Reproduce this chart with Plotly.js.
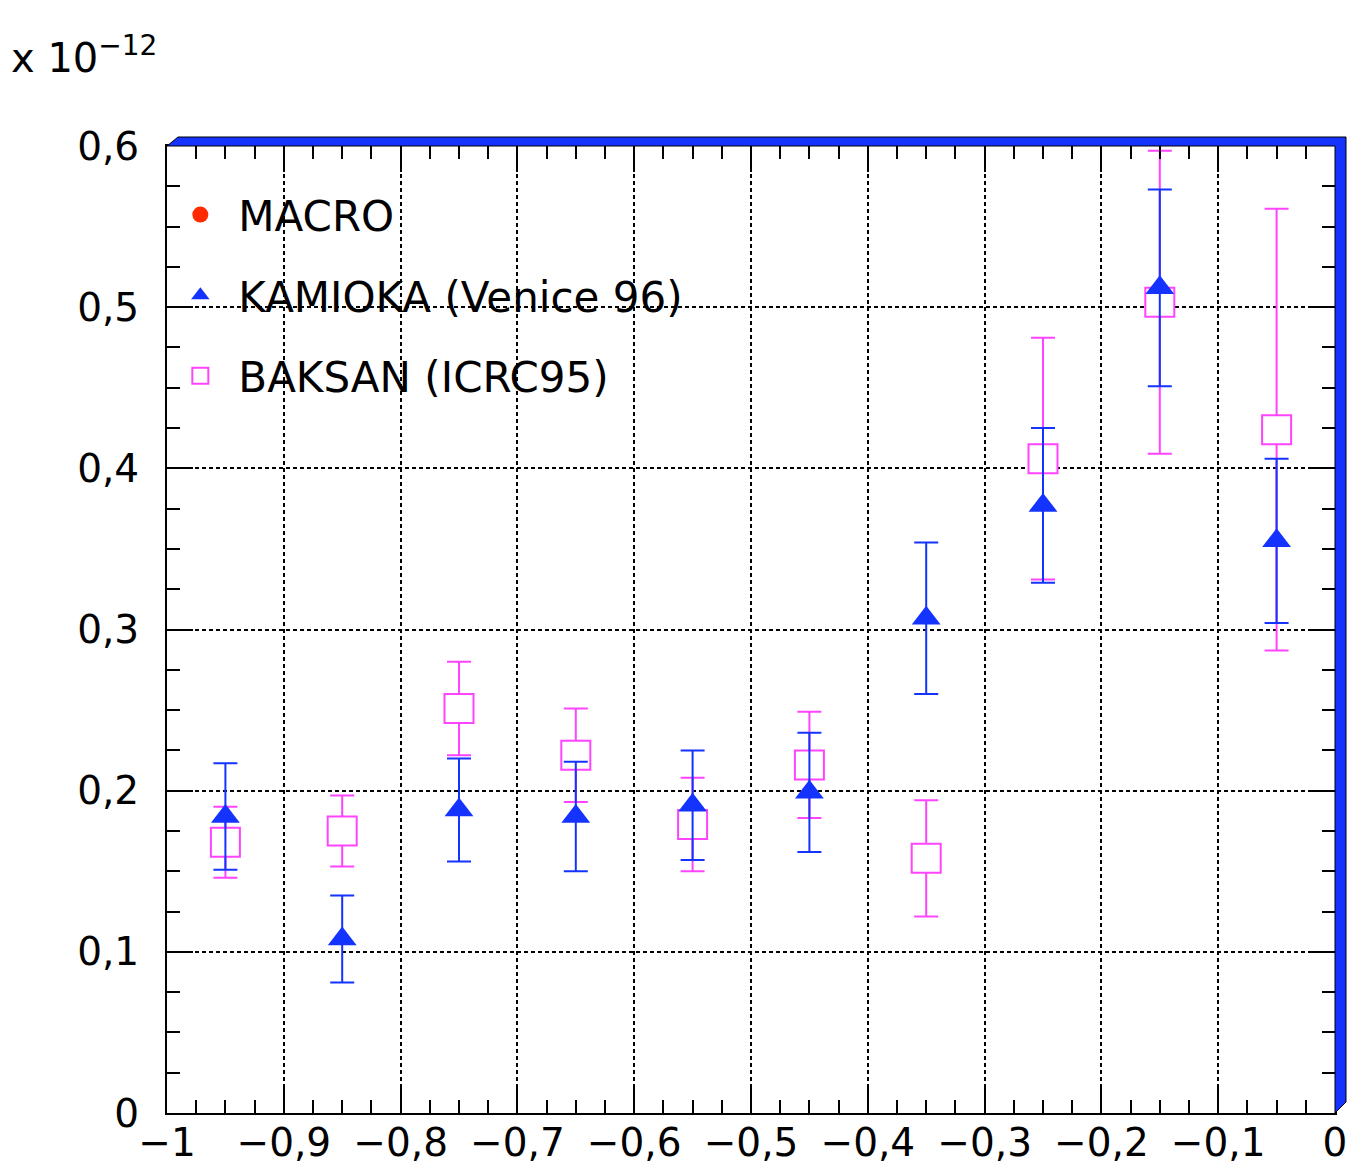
<!DOCTYPE html>
<html>
<head>
<meta charset="utf-8">
<script src="https://cdn.plot.ly/plotly-3.0.1.min.js"></script>
<style>html,body{margin:0;padding:0;background:#fff;}</style>
</head>
<body>
<div id="chart" style="width:1361px;height:1170px;"></div>
<script>
// x bin centres (cos zenith)
const xBins = [-0.95, -0.85, -0.75, -0.65, -0.55, -0.45, -0.35, -0.25, -0.15, -0.05];
// KAMIOKA (Venice 96), units of 1e-12
const kamiokaY   = [0.184, 0.108, 0.188, 0.184, 0.191, 0.199, 0.307, 0.377, 0.512, 0.355];
const kamiokaErr = [0.033, 0.027, 0.032, 0.034, 0.034, 0.037, 0.047, 0.048, 0.061, 0.051];
// BAKSAN (ICRC95)
const baksanY   = [0.168, 0.175, 0.251, 0.222, 0.179, 0.216, 0.158, 0.406, 0.503, 0.424];
const baksanErr = [0.022, 0.022, 0.029, 0.029, 0.029, 0.033, 0.036, 0.075, 0.094, 0.137];
// MACRO: legend entry only, no points drawn
const macroX = [null];
const macroY = [null];

const xTicks = [-1, -0.9, -0.8, -0.7, -0.6, -0.5, -0.4, -0.3, -0.2, -0.1, 0];
const yTicks = [0, 0.1, 0.2, 0.3, 0.4, 0.5, 0.6];

const BLUE = '#1433ff';
const PINK = '#ff44ff';
const RED = '#ff2a00';
const FONT = 'DejaVu Sans, Arial, sans-serif';

const traces = [
  {
    type: 'scatter', mode: 'markers', name: 'MACRO',
    x: macroX, y: macroY,
    marker: {symbol: 'circle', size: 20, color: RED},
    legendgroup: 'g1', legendrank: 1
  },
  {
    type: 'scatter', mode: 'markers', name: 'BAKSAN (ICRC95)',
    x: xBins, y: baksanY,
    error_y: {type: 'data', array: baksanErr, visible: true, color: PINK, thickness: 2, width: 12},
    marker: {symbol: 'square', size: 29, color: 'rgba(255,255,255,1)', line: {color: PINK, width: 2}},
    legendgroup: 'g3', legendrank: 3
  },
  {
    type: 'scatter', mode: 'markers', name: 'KAMIOKA (Venice 96)',
    x: xBins, y: kamiokaY,
    error_y: {type: 'data', array: kamiokaErr, visible: true, color: BLUE, thickness: 2, width: 12},
    marker: {symbol: 'triangle-up', size: 25, color: BLUE},
    legendgroup: 'g2', legendrank: 2
  }
];

const W = 1168, H = 967;
const dx = 11 / W, dy = 9 / H, dyb = 11 / H;
const bandPath = 'M 0,1 L ' + dx + ',' + (1 + dy) + ' L ' + (1 + dx) + ',' + (1 + dy) +
  ' L ' + (1 + dx) + ',' + dyb + ' L 1,0 L 1,1 Z';

const axisCommon = {
  showline: true, linecolor: 'black', linewidth: 2, mirror: 'allticks',
  ticks: 'inside', ticklen: 26, tickwidth: 2, tickcolor: 'black',
  showgrid: true, gridcolor: 'black', gridwidth: 2, griddash: '4px,3px',
  zeroline: false,
  tickfont: {family: FONT, size: 39, color: 'black'},
  minor: {ticks: 'inside', ticklen: 13, tickwidth: 2, tickcolor: 'black', dtick: 0.025, showgrid: false}
};

const layout = {
  width: 1361, height: 1170,
  margin: {l: 167, r: 26, t: 146, b: 57},
  paper_bgcolor: 'white', plot_bgcolor: 'white',
  separators: ', ',
  showlegend: true,
  legend: {
    x: -0.004, y: 0.964, xanchor: 'left', yanchor: 'top',
    bgcolor: 'rgba(0,0,0,0)', borderwidth: 0,
    font: {family: FONT, size: 42, color: 'black'},
    traceorder: 'grouped', tracegroupgap: 23, itemwidth: 66
  },
  xaxis: Object.assign({}, axisCommon, {
    range: [-1, 0], tickmode: 'array', tickvals: xTicks,
    ticktext: xTicks.map(v => v === 0 ? '0' : (v === -1 ? '\u22121' : '\u2212' + Math.abs(v).toFixed(1).replace('.', ','))),
    ticklabelstandoff: -6
  }),
  yaxis: Object.assign({}, axisCommon, {
    range: [0, 0.6], tickmode: 'array', tickvals: yTicks,
    ticktext: yTicks.map(v => v === 0 ? '0' : v.toFixed(1).replace('.', ',')),
    ticklabelstandoff: 18
  }),
  shapes: [
    {type: 'path', xref: 'paper', yref: 'paper', path: bandPath,
     fillcolor: BLUE, line: {color: 'black', width: 1}, layer: 'above'}
  ],
  annotations: [
    {xref: 'paper', yref: 'paper', x: -0.135, y: 1.065, xanchor: 'left', yanchor: 'bottom',
     showarrow: false, text: 'x 10<sup>\u221212</sup>',
     font: {family: FONT, size: 40, color: 'black'}}
  ]
};

Plotly.newPlot('chart', traces, layout, {displayModeBar: false, staticPlot: true});
</script>
</body>
</html>
